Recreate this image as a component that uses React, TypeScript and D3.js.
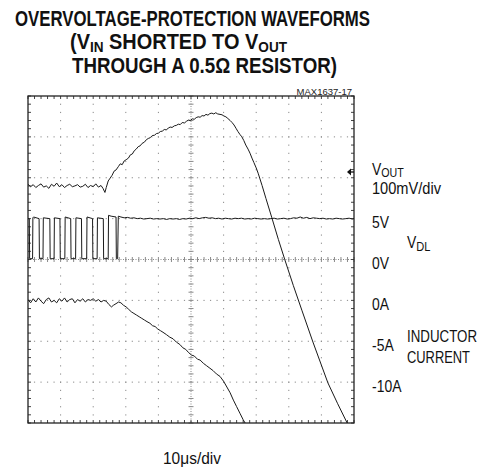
import React from 'react';
import * as d3 from 'd3';

// scope traces: [time in us, value]
const vOutData: [number, number][] = [
  [0, -30], [0.8, -36], [1.6, -31], [2.4, -38], [3.2, -33], [4.0, -29], [4.8, -37], [5.6, -34],
  [6.4, -40], [7.2, -30], [8.0, -35], [8.8, -27], [9.6, -36], [10.4, -31], [11.2, -38], [12.0, -33],
  [12.8, -30], [13.6, -36], [14.4, -34], [15.2, -31], [16.0, -37], [16.8, -35], [17.6, -30], [18.4, -38],
  [19.2, -33], [20.0, -36], [20.8, -29], [21.6, -37], [22.4, -33], [23.0, -40], [23.6, -50], [24.0, -38],
  [24.6, -22], [25.2, -15], [25.8, -8], [26.4, 2], [27.0, 5], [27.7, 13], [28.3, 20], [28.9, 18],
  [29.5, 27], [30.1, 30], [30.8, 34], [31.4, 42], [32.0, 44], [32.6, 52], [33.2, 56], [33.8, 62],
  [34.4, 64], [35.0, 70], [35.7, 73], [36.3, 79], [36.9, 82], [37.5, 84], [38.1, 89], [38.8, 90],
  [39.4, 94], [40.0, 95], [40.6, 99], [41.2, 100], [41.8, 104], [42.4, 103], [43.0, 107], [43.6, 110],
  [44.2, 109], [44.9, 113], [45.5, 114], [46.1, 117], [46.7, 116], [47.3, 121], [48.0, 120], [48.6, 124],
  [49.2, 127], [49.8, 126], [50.4, 130], [51.0, 129], [51.6, 133], [52.2, 135], [52.8, 134], [53.4, 138],
  [54.0, 137], [54.6, 141], [55.2, 139], [55.8, 143], [56.4, 144], [57.0, 142], [57.6, 145], [58.2, 142],
  [58.9, 141], [59.5, 140], [60.1, 137], [60.7, 135], [61.3, 131], [62.0, 126], [62.6, 121], [63.2, 115],
  [63.8, 107], [64.4, 99], [65.0, 92], [65.6, 86], [66.2, 77], [66.8, 66], [67.5, 56], [68.1, 46],
  [68.7, 34], [69.3, 23], [70.0, 10], [70.6, -3], [71.8, -33], [73.0, -65], [74.8, -112], [76.8, -165],
  [78.8, -215], [81.4, -278], [84.0, -338], [87.4, -416], [92.0, -516], [95.0, -567], [97.9, -614], [99.0, -640]
];

const vdlData: [number, number][] = [
  [0, 5.0], [0.4, 5.0], [0.5, 0.1], [1.4, 0.1], [1.5, 5.1], [1.7, 5.2], [3.4, 5.0], [3.5, 0.1],
  [4.6, 0.1], [4.7, 5.1], [6.7, 5.0], [6.8, 0.1], [8.0, 0.1], [8.1, 5.1], [9.8, 5.0], [9.9, 0.1],
  [11.3, 0.1], [11.4, 5.2], [13.1, 5.0], [13.2, 0.1], [14.6, 0.1], [14.7, 5.1], [16.4, 5.0], [16.5, 0.1],
  [18.0, 0.1], [18.1, 5.2], [19.8, 5.0], [19.9, 0.1], [21.2, 0.1], [21.3, 5.1], [23.1, 5.0], [23.2, 0.1],
  [24.6, 0.1], [24.7, 5.4], [25.5, 5.3], [27.0, 5.2], [27.1, 0.1], [27.5, 0.1], [27.7, 5.3], [28.5, 5.2],
  [29.5, 5.1], [30.5, 5.15], [31.5, 5.05], [32.5, 5.1], [33.5, 5.0], [34.5, 5.05], [35.5, 4.95], [36.5, 5.0],
  [37.5, 5.05], [38.5, 4.95], [39.5, 5.0], [40.5, 4.95], [41.5, 5.0], [42.5, 4.9], [43.5, 5.0], [44.5, 4.95],
  [45.5, 5.0], [46.5, 4.9], [47.5, 5.0], [48.5, 4.95], [49.5, 5.05], [50.5, 5.0], [51.5, 5.1], [52.5, 5.0],
  [53.5, 5.1], [54.5, 5.15], [55.5, 5.05], [56.5, 5.1], [57.5, 5.0], [58.5, 5.05], [59.5, 4.95], [60.5, 5.05],
  [61.5, 5.0], [62.5, 4.95], [63.5, 5.05], [64.5, 5.0], [65.5, 5.05], [66.5, 4.95], [67.5, 5.0], [68.5, 4.95],
  [69.5, 5.05], [70.5, 5.0], [71.5, 4.95], [72.5, 5.0], [73.5, 4.95], [74.5, 5.0], [75.5, 5.05], [76.5, 4.95],
  [77.5, 5.0], [78.5, 5.05], [79.5, 4.95], [80.5, 5.0], [81.5, 5.1], [82.5, 5.05], [83.5, 5.2], [84.5, 5.05],
  [85.5, 5.15], [86.5, 5.0], [87.5, 5.1], [88.5, 5.05], [89.5, 5.0], [90.5, 5.05], [91.5, 4.95], [92.5, 5.0],
  [93.5, 4.95], [94.5, 5.05], [95.5, 5.0], [96.5, 4.95], [97.5, 5.0], [98.5, 5.05], [99.5, 4.95], [100, 5.0]
];

const currentData: [number, number][] = [
  [0, 0.1], [0.8, -0.3], [1.6, 0.2], [2.4, -0.2], [3.2, 0.3], [4.0, -0.1], [4.8, -0.4], [5.6, 0.1],
  [6.4, 0.3], [7.2, -0.2], [8.0, 0.0], [8.8, -0.3], [9.6, 0.2], [10.4, -0.1], [11.2, 0.3], [12.0, -0.2],
  [12.8, 0.1], [13.6, 0.2], [14.4, -0.3], [15.2, 0.1], [16.0, -0.1], [16.8, 0.2], [17.6, -0.2], [18.4, 0.1],
  [19.2, 0.0], [20.0, 0.2], [20.8, -0.1], [21.6, 0.1], [22.4, -0.2], [23.2, 0.0], [24.0, -0.1], [24.8, -0.5],
  [25.6, -0.8], [26.2, -0.6], [27.0, -0.4], [27.8, -0.2], [28.5, -0.3], [29.3, -0.6], [30.1, -0.8], [30.9, -1.1],
  [31.7, -1.4], [32.5, -1.6], [33.3, -1.8], [34.1, -2.0], [34.9, -2.2], [35.7, -2.4], [36.5, -2.6], [37.4, -2.8],
  [38.2, -3.1], [39.0, -3.2], [39.8, -3.5], [40.6, -3.7], [41.4, -3.9], [42.5, -4.2], [43.5, -4.5], [44.5, -4.7],
  [45.5, -5.1], [46.6, -5.4], [47.5, -5.8], [48.4, -6.0], [49.3, -6.4], [50.2, -6.7], [51.0, -6.8], [52.0, -7.2],
  [52.8, -7.3], [53.8, -7.7], [54.8, -8.0], [55.8, -8.3], [56.8, -8.6], [57.8, -9.0], [58.9, -9.3], [60.0, -9.9],
  [61.0, -10.6], [62.0, -11.3], [63.0, -12.2], [64.0, -13.0], [65.0, -13.8], [66.0, -14.6], [66.6, -15.0], [67.5, -15.6]
];

const vdlTicks = [5, 0];
const currentTicks = [0, -5, -10];

const L = 28, R = 354, T = 96, B = 423;
const FONT = "'Liberation Sans', Arial, sans-serif";

// condensed text: scale horizontally, optionally stretch to a target width
function NT({ x, y, sx = 0.82, w, size = 17, bold, anchor, children }: any) {
  return (
    <text
      transform={`translate(${x},${y}) scale(${sx},1)`}
      fontSize={size}
      fontWeight={bold ? 'bold' : 'normal'}
      textAnchor={anchor}
      textLength={w ? w / sx : undefined}
      lengthAdjust={w ? 'spacingAndGlyphs' : undefined}
    >
      {children}
    </text>
  );
}

export default function App() {
  const xDiv = d3.scaleLinear().domain([0, 10]).range([L, R]);
  const yDiv = d3.scaleLinear().domain([0, 8]).range([B, T]);
  const xT = d3.scaleLinear().domain([0, 100]).range([L, R]);
  const divH = (B - T) / 8;
  const yVout = d3.scaleLinear().domain([0, 100]).range([172, 172 - divH]);
  const yVdl = d3.scaleLinear().domain([0, 5]).range([yDiv(4), yDiv(5)]);
  const yCur = d3.scaleLinear().domain([0, -5]).range([yDiv(3), yDiv(2)]);

  const line = (ys: d3.ScaleLinear<number, number>) =>
    d3.line<[number, number]>().x(d => xT(d[0])).y(d => ys(d[1]));

  const minorX = d3.range(0, 10.001, 0.2);
  const minorY = d3.range(0, 8.001, 0.2);
  const grid = '#8a8a8a';

  return (
    <svg width={482} height={470} style={{ position: 'absolute', left: 0, top: 0 }}>
      <defs>
        <clipPath id="plot"><rect x={L} y={T} width={R - L} height={B - T} /></clipPath>
      </defs>
      <rect width={482} height={470} fill="#fff" />

      {/* title */}
      <g fontFamily={FONT} fill="#111">
        <NT x={15} y={25.5} sx={0.72} w={355} size={22} bold>OVERVOLTAGE-PROTECTION WAVEFORMS</NT>
        <NT x={70} y={48.5} sx={0.72} w={217} size={22} bold>
          (V<tspan fontSize={15} dy={3}>IN</tspan><tspan dy={-3}> SHORTED TO V</tspan><tspan fontSize={15} dy={3}>OUT</tspan>
        </NT>
        <NT x={72} y={73} sx={0.72} w={265} size={22} bold>THROUGH A 0.5Ω RESISTOR)</NT>
      </g>
      <text x={352} y={95} fontSize={9.5} fontFamily={FONT} textAnchor="end" fill="#222">MAX1637-17</text>

      {/* grid dots */}
      <g fill={grid}>
        {d3.range(1, 10).filter(k => k !== 5).map(k =>
          minorY.slice(1, -1).map(m => (
            <rect key={`v${k}-${m}`} x={xDiv(k) - 0.5} y={yDiv(m) - 0.5} width={1} height={1.2} />
          )))}
        {d3.range(1, 8).filter(k => k !== 4).map(k =>
          minorX.slice(1, -1).map(m => (
            <rect key={`h${k}-${m}`} x={xDiv(m) - 0.6} y={yDiv(k) - 0.5} width={1.2} height={1} />
          )))}
      </g>
      {/* centre cross */}
      <g stroke={grid} strokeWidth={1}>
        <line x1={xDiv(5)} x2={xDiv(5)} y1={T} y2={B} strokeDasharray="1 1.5" />
        <line x1={L} x2={R} y1={yDiv(4)} y2={yDiv(4)} strokeDasharray="1 1.5" />
        {minorY.map(m => (
          <line key={`cy${m}`} x1={xDiv(5) - 2.5} x2={xDiv(5) + 2.5} y1={yDiv(m)} y2={yDiv(m)} />
        ))}
        {minorX.map(m => (
          <line key={`cx${m}`} x1={xDiv(m)} x2={xDiv(m)} y1={yDiv(4) - 2.5} y2={yDiv(4) + 2.5} />
        ))}
      </g>
      {/* frame ticks */}
      <g stroke="#444" strokeWidth={1}>
        {minorX.map(m => (
          <g key={`fx${m}`}>
            <line x1={xDiv(m)} x2={xDiv(m)} y1={T} y2={T + 3} />
            <line x1={xDiv(m)} x2={xDiv(m)} y1={B} y2={B - 3} />
          </g>
        ))}
        {minorY.map(m => (
          <g key={`fy${m}`}>
            <line x1={L} x2={L + 3} y1={yDiv(m)} y2={yDiv(m)} />
            <line x1={R} x2={R - 3} y1={yDiv(m)} y2={yDiv(m)} />
          </g>
        ))}
      </g>
      <rect x={L} y={T} width={R - L} height={B - T} fill="none" stroke="#222" strokeWidth={1.3} />

      {/* traces */}
      <g clipPath="url(#plot)" fill="none" stroke="#1a1a1a" strokeWidth={1} strokeLinejoin="round">
        <path d={line(yVout)(vOutData) ?? ''} />
        <path d={line(yVdl)(vdlData) ?? ''} />
        <path d={line(yCur)(currentData) ?? ''} />
      </g>

      {/* VOUT reference arrow */}
      <path d={`M${R - 7},${yVout(0)} L${R - 3},${yVout(0) - 3.5} L${R - 3},${yVout(0) + 3.5} Z`} fill="#111" />
      <line x1={R - 4} x2={R} y1={yVout(0)} y2={yVout(0)} stroke="#111" strokeWidth={1.3} />

      {/* right labels */}
      <g fontFamily={FONT} fill="#111">
        <NT x={372} y={175}>V<tspan fontSize={13} dy={1.5}>OUT</tspan></NT>
        <NT x={372} y={194} w={69} size={16.5}>100mV/div</NT>
        {vdlTicks.map(v => (
          <NT key={`v${v}`} x={372} y={yVdl(v) + 9.8}>{`${v}V`}</NT>
        ))}
        <NT x={407} y={248}>V<tspan fontSize={13.5} dy={2.5}>DL</tspan></NT>
        {currentTicks.map(a => (
          <NT key={`a${a}`} x={372} y={yCur(a) + 9.8}>{`${a}A`}</NT>
        ))}
        <NT x={407} y={342} w={70}>INDUCTOR</NT>
        <NT x={407} y={363} w={63}>CURRENT</NT>
        <NT x={163} y={464} w={58}>10μs/div</NT>
      </g>
    </svg>
  );
}
